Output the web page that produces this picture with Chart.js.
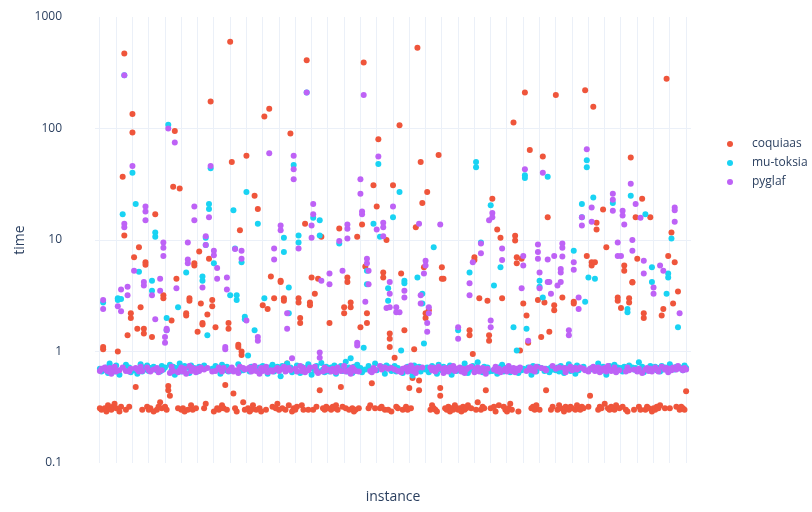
<!DOCTYPE html>
<html>
<head>
<meta charset="utf-8">
<script src="https://cdn.jsdelivr.net/npm/chart.js@4.4.1/dist/chart.umd.min.js"></script>
<style>
  html, body { margin: 0; padding: 0; background: #ffffff; }
  #wrap { width: 812px; height: 512px; }
</style>
</head>
<body>
<div id="wrap"><canvas id="c" width="812" height="512"></canvas></div>
<script>
// Solver runtimes (seconds) per benchmark instance.
const solvers = ['coquiaas', 'mu-toksia', 'pyglaf'];
const solverColors = ['#EF553B', '#19D3F3', '#BE62F6'];
const instanceCount = 361;

const yTickValues = [0.1, 1, 10, 100, 1000];
const yTickLabels = ['0.1', '1', '10', '100', '1000'];

// Typical (fast) runtime of each solver on every instance.
const coquiaasBase = [
  .31,.30,.32,.31,.29,.33,.31,.30,.32,.34,.31,.30,.29,.32,.31,.33,.30,.31,.32,.30,
  .31,.33,.30,.29,.32,.31,.30,.34,.31,.32,.30,.31,.33,.29,.31,.30,.32,.35,.31,.30,
  .32,.30,.31,.29,.33,.31,.30,.32,.31,.36,.30,.31,.29,.32,.30,.31,.33,.30,.32,.31,
  .30,.31,.32,.29,.31,.34,.30,.31,.33,.30,.29,.32,.31,.30,.31,.33,.31,.29,.30,.32,
  .31,.30,.33,.31,.29,.32,.30,.31,.35,.30,.32,.31,.29,.30,.33,.31,.30,.32,.31,.29,
  .32,.31,.30,.33,.29,.31,.32,.30,.31,.34,.30,.29,.31,.32,.30,.31,.33,.30,.29,.31,
  .30,.32,.31,.29,.33,.30,.31,.32,.30,.31,.36,.30,.29,.32,.31,.30,.33,.31,.30,.32,
  .31,.29,.30,.32,.31,.33,.30,.31,.29,.32,.30,.31,.34,.30,.32,.31,.29,.30,.33,.31,
  .30,.31,.32,.30,.29,.31,.33,.30,.32,.31,.30,.29,.31,.32,.35,.30,.31,.30,.32,.29,
  .31,.30,.32,.31,.33,.29,.30,.31,.32,.30,.34,.31,.29,.30,.32,.31,.30,.33,.31,.30,
  .29,.32,.31,.30,.33,.31,.30,.29,.32,.31,.30,.34,.31,.30,.32,.29,.31,.30,.33,.31,
  .30,.31,.29,.32,.30,.31,.33,.30,.31,.32,.29,.30,.35,.31,.30,.32,.31,.29,.30,.32,
  .31,.30,.32,.29,.31,.33,.30,.31,.32,.30,.29,.31,.34,.30,.32,.31,.30,.29,.31,.33,
  .30,.32,.31,.30,.29,.31,.32,.30,.33,.31,.30,.29,.32,.31,.30,.36,.31,.30,.32,.29,
  .31,.30,.33,.31,.30,.29,.32,.31,.30,.32,.31,.29,.30,.33,.31,.30,.32,.31,.29,.30,
  .32,.31,.30,.29,.33,.31,.30,.32,.31,.30,.34,.29,.31,.30,.32,.31,.30,.33,.29,.31,
  .30,.32,.31,.30,.29,.32,.31,.33,.30,.31,.29,.32,.30,.31,.35,.30,.32,.31,.30,.29,
  .31,.30,.32,.31,.33,.30,.29,.31,.32,.30,.31,.34,.30,.29,.32,.31,.30,.32,.31,.30,
  .31
];
const muToksiaBase = [
  .70,.66,.74,.68,.72,.64,.78,.69,.71,.66,.75,.68,.62,.73,.70,.67,.76,.69,.72,.65,
  .71,.68,.74,.63,.70,.77,.66,.72,.69,.75,.67,.71,.64,.73,.80,.68,.70,.66,.74,.69,
  .72,.65,.70,.76,.68,.73,.62,.71,.69,.78,.66,.70,.74,.67,.72,.64,.75,.69,.71,.68,
  .66,.73,.70,.61,.75,.68,.72,.79,.67,.70,.65,.74,.69,.71,.63,.76,.70,.68,.73,.66,
  .71,.69,.64,.74,.70,.77,.67,.72,.68,.62,.75,.70,.66,.73,.69,.80,.71,.65,.72,.68,
  .74,.67,.70,.63,.72,.69,.76,.66,.71,.73,.68,.60,.74,.70,.67,.78,.69,.72,.65,.71,
  .68,.75,.70,.64,.73,.69,.71,.66,.77,.70,.62,.72,.68,.74,.67,.71,.79,.69,.65,.73,
  .70,.66,.72,.68,.75,.63,.71,.69,.74,.67,.70,.81,.66,.72,.69,.64,.73,.70,.76,.68,
  .71,.65,.73,.69,.62,.74,.70,.67,.72,.78,.68,.71,.66,.73,.70,.63,.75,.69,.72,.67,
  .70,.74,.66,.71,.68,.77,.64,.72,.69,.73,.67,.70,.61,.75,.71,.68,.73,.66,.70,.79,
  .69,.72,.65,.70,.74,.67,.71,.63,.76,.70,.68,.73,.66,.71,.69,.75,.62,.72,.70,.67,
  .73,.68,.71,.66,.78,.70,.64,.72,.69,.74,.67,.71,.80,.68,.70,.65,.73,.69,.72,.66,
  .71,.67,.74,.69,.63,.72,.70,.76,.66,.71,.68,.73,.65,.70,.77,.69,.72,.64,.71,.68,
  .70,.75,.67,.72,.69,.62,.74,.70,.66,.73,.68,.71,.79,.67,.70,.73,.65,.72,.69,.71,
  .68,.72,.66,.74,.70,.64,.71,.69,.77,.67,.72,.70,.63,.75,.68,.71,.69,.73,.66,.70,
  .74,.69,.71,.65,.72,.68,.78,.70,.67,.73,.69,.62,.71,.74,.68,.70,.76,.66,.72,.69,
  .71,.66,.73,.70,.68,.75,.64,.72,.69,.71,.67,.80,.70,.73,.65,.72,.68,.70,.74,.67,
  .70,.73,.68,.71,.66,.74,.69,.72,.63,.70,.77,.68,.71,.69,.73,.66,.72,.70,.68,.75,
  .71
];
const pyglafBase = [
  .67,.70,.64,.72,.68,.66,.71,.63,.69,.73,.66,.70,.68,.65,.72,.69,.67,.74,.66,.70,
  .68,.65,.71,.69,.66,.73,.67,.70,.64,.72,.68,.66,.75,.69,.67,.71,.65,.70,.68,.72,
  .66,.70,.68,.64,.73,.67,.69,.71,.65,.68,.72,.66,.70,.63,.69,.74,.67,.71,.68,.65,
  .70,.67,.72,.66,.69,.65,.71,.68,.73,.66,.70,.67,.64,.72,.69,.66,.71,.68,.75,.67,
  .69,.72,.66,.70,.68,.64,.73,.67,.71,.69,.65,.70,.72,.66,.68,.74,.67,.70,.63,.71,
  .67,.69,.73,.65,.70,.68,.66,.72,.69,.71,.67,.64,.70,.73,.66,.69,.71,.68,.65,.72,
  .70,.66,.69,.74,.67,.71,.65,.70,.68,.72,.66,.69,.73,.67,.64,.71,.69,.66,.72,.68,
  .69,.73,.66,.70,.68,.65,.72,.69,.67,.71,.74,.66,.70,.68,.63,.72,.69,.67,.71,.66,
  .68,.70,.72,.66,.69,.73,.67,.65,.71,.68,.70,.66,.74,.69,.67,.72,.65,.70,.68,.71,
  .66,.69,.71,.67,.73,.65,.70,.68,.72,.66,.69,.75,.67,.70,.64,.71,.68,.66,.72,.69,
  .70,.67,.65,.72,.68,.71,.66,.69,.73,.67,.70,.64,.71,.68,.66,.72,.69,.74,.67,.70,
  .68,.72,.66,.70,.64,.69,.71,.67,.73,.68,.65,.70,.72,.66,.69,.71,.67,.63,.70,.68,
  .71,.66,.69,.73,.67,.70,.65,.72,.68,.70,.66,.74,.69,.67,.71,.65,.70,.68,.72,.66,
  .69,.71,.67,.65,.72,.68,.70,.66,.73,.69,.67,.71,.64,.70,.68,.72,.66,.69,.74,.67,
  .70,.68,.72,.66,.69,.71,.65,.70,.67,.73,.68,.66,.71,.69,.64,.72,.67,.70,.68,.71,
  .66,.70,.68,.73,.67,.69,.72,.65,.70,.68,.71,.66,.74,.69,.67,.70,.72,.65,.69,.68,
  .71,.67,.70,.66,.72,.68,.65,.71,.69,.73,.66,.70,.68,.64,.72,.69,.71,.67,.70,.66,
  .68,.72,.69,.66,.70,.73,.67,.69,.71,.65,.70,.68,.72,.66,.69,.74,.67,.70,.68,.71,
  .69
];

// Instances where a solver took noticeably longer: instance -> recorded runs.
const coquiaasSlow = {
  2:[1.1,1.05], 11:[1.0], 14:[37], 15:[470,11], 17:[1.4], 19:[2.2,2.0], 20:[135,92], 21:[7],
  22:[0.48], 23:[1.6], 24:[8.6], 25:[2.5], 27:[1.6,1.45], 28:[6.3,6.0], 32:[1.35], 34:[17],
  39:[3.2,3.0], 42:[0.49,0.45], 43:[0.4], 44:[1.9], 45:[30], 46:[95], 47:[4.5], 49:[29],
  53:[2.2,2.1], 55:[3.0,2.85], 58:[6.2,5.9], 60:[1.5], 61:[7.9], 62:[2.7], 63:[1.8,1.75],
  66:[2.15], 67:[6.8], 68:[175], 69:[2.9,2.55], 71:[1.65], 77:[0.5], 79:[1.8,1.6], 80:[600],
  81:[50], 82:[0.42], 85:[1.15,1.1], 86:[12.2], 87:[1.0,0.93], 90:[57], 95:[25], 97:[19],
  100:[2.6], 101:[128], 103:[2.4], 104:[150], 105:[4.7], 107:[3.0], 111:[4.2,4.3],
  113:[3.0,2.85], 115:[0.78], 117:[90], 122:[3.0,2.75], 123:[2.0,1.8], 126:[14], 127:[410],
  129:[2.75,2.6], 130:[4.6], 132:[3.3], 134:[4.5], 135:[0.45], 136:[10.7], 141:[1.8],
  147:[12.7], 148:[0.48], 150:[2.5,2.2], 152:[4.6,4.2], 154:[2.75,2.5], 158:[10.7], 160:[1.65],
  161:[13.8], 162:[390], 163:[5.8], 164:[2.2,1.8], 167:[0.52], 168:[31], 170:[20], 171:[80],
  174:[5.1,4.6], 176:[10], 178:[1.45,1.3,1.1], 180:[31], 181:[0.88], 184:[107], 185:[5.0],
  187:[1.55], 190:[0.47], 192:[0.58], 193:[1.05], 194:[13], 195:[530], 196:[0.55,0.45],
  197:[50], 198:[21.5], 199:[5.7], 200:[2.2,2.0], 201:[27], 202:[2.35], 208:[58],
  209:[0.47,0.4], 210:[5.7,4.5], 211:[4.5], 227:[1.55,1.4], 229:[0.95], 230:[7.0,6.6],
  233:[3.0], 237:[0.45], 238:[2.85], 239:[1.4,1.25], 241:[23.5], 244:[12.4], 246:[10.5],
  247:[3.0], 254:[113], 255:[10.9,9.9], 256:[7.0,6.2], 258:[1.02], 259:[6.8], 260:[2.7],
  261:[210], 262:[2.1], 263:[1.2], 264:[64], 269:[2.9], 271:[1.35], 272:[56], 273:[2.75],
  274:[0.45], 275:[16], 276:[1.5], 279:[2.6,2.35], 280:[200], 284:[3.05], 291:[2.8,2.7],
  298:[220], 299:[7.2], 301:[0.4], 302:[6.3,5.9], 303:[157], 304:[6.3], 305:[14.3,12.4],
  309:[18.8], 311:[8.6], 318:[3.05,2.85], 320:[2.45], 322:[5.9,5.3], 325:[3.0,2.75],
  326:[55], 327:[4.2,4.15], 329:[16], 330:[6.8], 333:[23.5], 334:[2.2,2.0], 338:[16],
  345:[2.1], 346:[2.4], 348:[280], 349:[7.2], 351:[11.7], 352:[2.7], 353:[6.3], 355:[3.45],
  360:[0.44]
};
const muToksiaSlow = {
  2:[2.75], 11:[3.0,2.9], 13:[2.95], 14:[17], 15:[300], 20:[40], 22:[21], 24:[5.2],
  32:[4.3,3.5], 34:[11.7,10.7], 41:[2.0,1.55], 42:[108], 48:[2.5], 53:[5.1], 63:[4.7,4.3],
  65:[10.5,9.0], 66:[1.4], 67:[21,19], 68:[44], 70:[6.2], 80:[3.2], 82:[18.5], 83:[8.4],
  84:[3.2,2.9], 87:[6.3], 89:[2.05,1.95], 90:[27], 91:[0.92], 95:[1.55], 97:[14], 101:[3.0],
  113:[10.5,7.8], 116:[3.75,2.2], 119:[47], 122:[11,9.5], 127:[210], 131:[15.8], 135:[15,11],
  147:[9.3], 154:[0.87], 162:[1.08], 164:[5.3,4.0], 168:[14], 171:[48], 172:[10.7],
  177:[3.7,2.85], 180:[16], 184:[27], 185:[1.02], 187:[4.3,4.1], 195:[4.6], 198:[3.3,2.7],
  199:[1.18], 205:[8.6], 220:[1.55], 227:[5.1], 231:[50,45], 234:[9.5], 240:[20.5],
  242:[3.9], 246:[5.7], 254:[1.65], 256:[1.02], 261:[38,36], 262:[1.6], 270:[4.3,3.8],
  272:[3.05], 275:[37], 291:[8.0], 296:[21,16], 298:[2.8], 299:[52,45], 300:[4.6], 303:[24],
  304:[4.5], 315:[21.5], 324:[2.4,2.25], 326:[25], 335:[17], 339:[5.7,4.2], 348:[3.3],
  349:[5.0,4.6], 351:[10.3], 355:[1.65]
};
const pyglafSlow = {
  2:[2.9,2.4], 11:[2.55], 13:[3.6,2.3], 15:[300,14,13], 17:[3.8,3.2], 20:[46], 21:[5.3],
  27:[4.2,3.9], 28:[20,18,15], 32:[3.2], 34:[1.95], 37:[4.5,3.5], 39:[9.5,8.5,7.2],
  40:[1.35,1.2], 41:[1.6,1.55], 42:[100], 46:[75], 47:[3.7], 54:[9.5,6.7,6.2], 58:[20,15],
  63:[3.75], 65:[10.8,9.0], 67:[16], 68:[46], 70:[8.0,7.3], 72:[5.6,4.5], 77:[1.1,1.05],
  78:[4.6,3.6], 83:[8.3], 87:[8.0,6.8], 90:[1.9], 97:[1.35,1.25], 104:[60], 107:[8.4,6.7],
  111:[13.5,12.2], 115:[2.2,1.6], 118:[0.87], 119:[57,43,35], 122:[8.4], 127:[210],
  130:[13.5,10.5], 131:[21,17], 135:[0.98,0.88], 136:[4.3], 141:[5.0,4.0], 147:[9.8],
  149:[5.3], 152:[13.8,12.6,10.3], 158:[1.2,1.13], 160:[35,26], 161:[18,17], 162:[200],
  163:[2.8], 164:[6.8,6.2], 165:[5.3,4.0], 170:[12.4], 171:[56], 174:[14.3,13,10.8],
  176:[2.45], 178:[4.2,3.3,2.5], 180:[20], 182:[2.5,2.25], 184:[2.25], 187:[3.5,3.05],
  196:[14], 197:[3.2,2.7], 199:[5.0], 200:[6.5,5.9], 201:[1.8,1.5], 202:[2.5,2.2], 209:[13.8],
  220:[1.65,1.3], 227:[4.1,3.2], 229:[6.3], 234:[9.3,7.6], 239:[15], 240:[1.9,1.65],
  241:[17.5,16], 247:[8.4,6.6], 259:[3.7], 260:[7.2,5.9], 261:[43], 263:[1.25],
  269:[9.1,7.8,6.8], 270:[5.1,3.7], 272:[40], 275:[6.7,4.2], 276:[4.2], 277:[3.3], 279:[7.2],
  281:[3.9], 283:[5.5,5.1,4.2], 284:[9.3,8.5,7.1], 288:[1.55,1.4], 291:[6.3,5.4],
  294:[3.05,2.4], 296:[16,13.5], 299:[65], 302:[19.6,14.6], 315:[26,23,18.3], 318:[9.5,7.2],
  320:[7.2], 321:[18.3,16.6], 322:[13.8], 326:[32], 327:[10,8], 329:[21], 332:[15.8],
  334:[6.5,5.0], 340:[3.75,3.3], 344:[5.9], 346:[5.3], 353:[19.6,18.5,14.6], 356:[2.2]
};

// Flatten per-instance runs into scatter points.
function toPoints(base, slow) {
  const pts = [];
  for (let i = 0; i < instanceCount; i++) {
    const runs = slow[i] ? slow[i] : [base[i]];
    runs.forEach(v => { if (v != null) pts.push({ x: i, y: v }); });
  }
  return pts;
}

const seriesPoints = [
  toPoints(coquiaasBase, coquiaasSlow),
  toPoints(muToksiaBase, muToksiaSlow),
  toPoints(pyglafBase, pyglafSlow)
];

const fontFamily = '"Open Sans", "Noto Sans", sans-serif';
const textColor = '#2a3f5f';
const gridColor = '#EBF0F8';

Chart.defaults.font.family = fontFamily;
Chart.defaults.color = textColor;

// Plot box in canvas pixels.
const plotBox = { left: 95, right: 691, top: 17, bottom: 463 };

// Pin the plot area so the axes land on the same pixels every time.
const pinArea = {
  id: 'pinArea',
  afterLayout(chart) {
    const a = chart.chartArea;
    a.left = plotBox.left; a.right = plotBox.right;
    a.top = plotBox.top; a.bottom = plotBox.bottom;
    a.width = a.right - a.left; a.height = a.bottom - a.top;
    const xs = chart.scales.x, ys = chart.scales.y;
    xs.left = a.left; xs.right = a.right; xs.width = a.width;
    xs.top = a.bottom; xs.bottom = 512; xs.height = xs.bottom - xs.top;
    ys.top = a.top; ys.bottom = a.bottom; ys.height = a.height;
    ys.left = 0; ys.right = a.left; ys.width = a.left;
    xs.configure(); ys.configure();
  }
};

// Legend drawn to the right of the plot.
const sideLegend = {
  id: 'sideLegend',
  afterDraw(chart) {
    const ctx = chart.ctx;
    ctx.save();
    ctx.font = '12px ' + fontFamily;
    ctx.textBaseline = 'middle';
    ctx.textAlign = 'left';
    chart.data.datasets.forEach((ds, k) => {
      const y = 144 + k * 19;
      ctx.fillStyle = ds.backgroundColor;
      ctx.beginPath();
      ctx.arc(730, y, 3, 0, Math.PI * 2);
      ctx.fill();
      ctx.fillStyle = textColor;
      ctx.fillText(ds.label, 752, y);
    });
    ctx.restore();
  }
};

new Chart(document.getElementById('c'), {
  type: 'scatter',
  data: {
    datasets: solvers.map((name, k) => ({
      label: name,
      data: seriesPoints[k],
      backgroundColor: solverColors[k],
      borderColor: solverColors[k],
      borderWidth: 0,
      pointRadius: 3,
      pointHoverRadius: 3,
      order: solvers.length - k
    }))
  },
  options: {
    responsive: false,
    animation: false,
    devicePixelRatio: 1,
    layout: { padding: { top: 17, right: 121, bottom: 0, left: 0 } },
    plugins: {
      legend: { display: false },
      tooltip: { enabled: false }
    },
    scales: {
      x: {
        type: 'linear',
        min: -3,
        max: instanceCount + 2,
        afterFit(scale) { scale.height = 49; },
        ticks: { display: false, stepSize: 10, includeBounds: false },
        grid: { color: gridColor, lineWidth: 1, drawTicks: false },
        border: { display: false },
        title: {
          display: true,
          text: 'instance',
          color: textColor,
          font: { size: 14, family: fontFamily },
          padding: { top: 0, bottom: 7 }
        }
      },
      y: {
        type: 'logarithmic',
        min: 0.1,
        max: 1000,
        afterFit(scale) { scale.width = 95; },
        afterBuildTicks(scale) {
          scale.ticks = yTickValues.map(v => ({ value: v }));
        },
        ticks: {
          padding: 33,
          color: textColor,
          font: { size: 12, family: fontFamily },
          callback: (value) => {
            const idx = yTickValues.indexOf(value);
            return idx >= 0 ? yTickLabels[idx] : '';
          }
        },
        grid: {
          drawTicks: false,
          lineWidth: 1,
          color: (c) => (c.tick && (c.tick.value === 0.1 || c.tick.value === 1000)) ? 'rgba(0,0,0,0)' : gridColor
        },
        border: { display: false },
        title: {
          display: true,
          text: 'time',
          color: textColor,
          font: { size: 14, family: fontFamily },
          padding: { top: 12, bottom: 0 }
        }
      }
    }
  },
  plugins: [pinArea, sideLegend]
});
</script>
</body>
</html>
